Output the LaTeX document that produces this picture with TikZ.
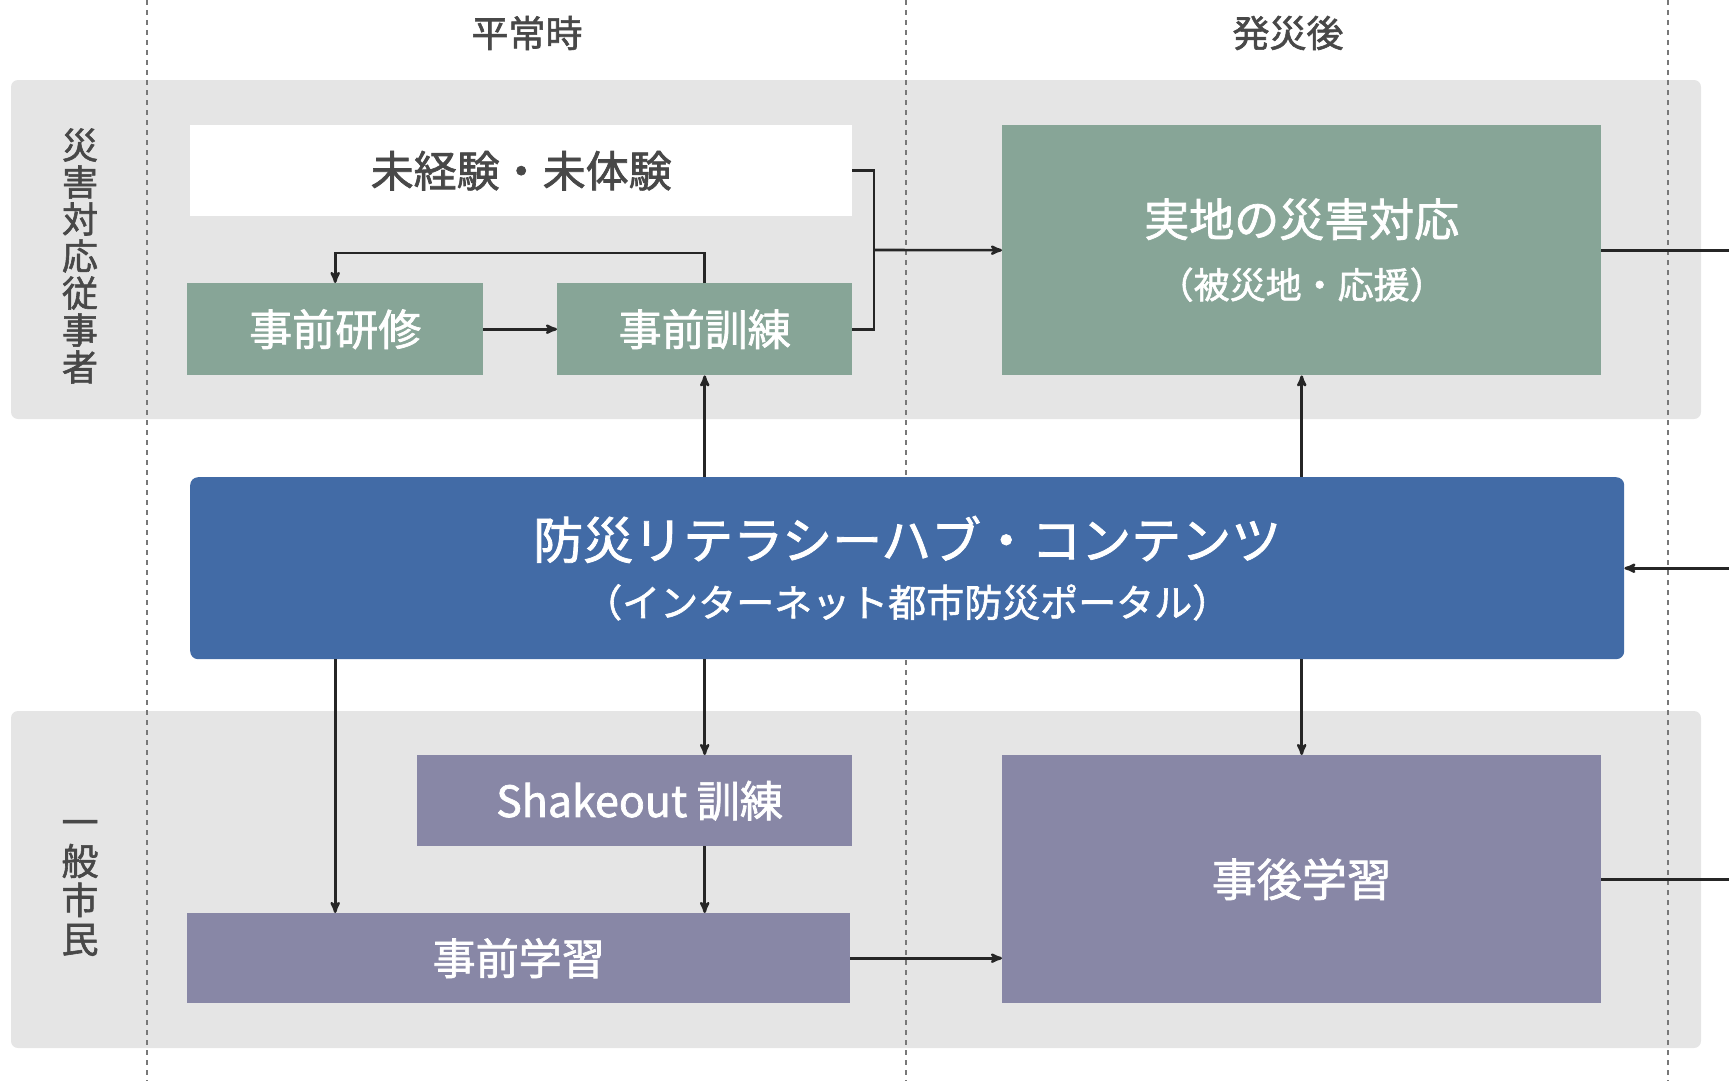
\documentclass[tikz,border=0pt]{standalone}
\usepackage{fontspec}
\setmainfont{Noto Sans CJK JP}
\newfontfamily\medium{Noto Sans CJK JP}[FakeBold=1.6]
\usepackage{tikz}
\usetikzlibrary{arrows}
\usetikzlibrary{calc}

\definecolor{bandgray}{RGB}{229,229,229}
\definecolor{sagegreen}{RGB}{135,165,151}
\definecolor{lavgray}{RGB}{136,135,166}
\definecolor{hubblue}{RGB}{66,107,166}
\definecolor{labelgray}{RGB}{72,72,72}
\definecolor{dashgray}{RGB}{120,120,120}

\tikzset{
  box/.style={anchor=north west,inner sep=0pt,align=center,text=white},
  greenbox/.style={box,fill=sagegreen},
  purplebox/.style={box,fill=lavgray},
  hubbox/.style={box,fill=hubblue,rounded corners=8pt},
  band/.style={fill=bandgray,rounded corners=7pt},
  phase/.style={text=labelgray,font=\fontsize{37}{44}\medium},
  actor/.style={text=labelgray,align=center},
  link/.style={draw,line width=2.6pt,black!85},
  arr/.style={link,->,>=stealth'}
}

\begin{document}
\begin{tikzpicture}[x=1pt,y=-1pt]

  \useasboundingbox (0,0) rectangle (1729,1081);

  % bands
  \fill [band] (11,80) rectangle (1701,419);
  \fill [band] (11,711) rectangle (1701,1048);

  % phase separators
  \foreach \xx in {147,906,1668}
    \draw [dashgray,line width=1.2pt,dash pattern=on 5pt off 5pt] (\xx,0) -- (\xx,1081);

  % headings
  \node [phase] (normal) at (527,33) {平常時};
  \node [phase] (after)  at (1288,33) {発災後};
  \node [actor,font=\fontsize{36}{37}\medium] (staff) at (80,256)
    {災\\害\\対\\応\\従\\事\\者};
  \node [actor,font=\fontsize{37}{39}\medium] (citizen) at (80,888)
    {一\\般\\市\\民};

  % staff row
  \node [box,fill=white,text=labelgray,minimum width=662pt,minimum height=91pt,
         font=\fontsize{43}{50}\medium] (mikeiken) at (190,125) {未経験・未体験};
  \node [greenbox,minimum width=296pt,minimum height=92pt,
         font=\fontsize{43}{50}\medium] (kenshu) at (187,283) {事前研修};
  \node [greenbox,minimum width=295pt,minimum height=92pt,
         font=\fontsize{43}{50}\medium] (kunren) at (557,283) {事前訓練};
  \node [greenbox,minimum width=599pt,minimum height=250pt,
         font=\fontsize{45}{68}\medium] (jitchi) at (1002,125)
    {実地の災害対応\\[-6pt]{\fontsize{36}{40}\selectfont（被災地・応援）}};

  % hub
  \node [hubbox,minimum width=1434pt,minimum height=182pt,
         font=\fontsize{50}{66}\medium] (hub) at (190,477)
    {防災リテラシーハブ・コンテンツ\\[-8pt]{\fontsize{38}{44}\selectfont（インターネット都市防災ポータル）}};

  % citizen row
  \node [purplebox,minimum width=435pt,minimum height=91pt,
         font=\fontsize{43}{50}\medium] (shakeout) at (417,755) {\ Shakeout 訓練};
  \node [purplebox,minimum width=663pt,minimum height=90pt,
         font=\fontsize{43}{50}\medium] (gakushu) at (187,913) {事前学習};
  \node [purplebox,minimum width=599pt,minimum height=248pt,
         font=\fontsize{45}{50}\medium] (jigo) at (1002,755) {事後学習};

  \coordinate (brk) at (874,250);
  \coordinate (rim) at (1729,0);
  \coordinate (loop) at (0,253);

  % connectors
  \draw [link] (mikeiken.east) -| (brk) |- (kunren.east);
  \draw [arr] (kunren.north) -- (kunren.north |- loop) -| (kenshu.north);

  \path [every edge/.style={arr}]
    (brk)                        edge (jitchi.west)
    (kenshu.east)                edge (kunren.west)
    (hub.north -| kunren.north)  edge (kunren.south)
    (hub.north -| jitchi.south)  edge (jitchi.south)
    (hub.south -| kenshu.south)  edge (gakushu.north -| kenshu.south)
    (hub.south -| kunren.south)  edge (shakeout.north -| kunren.south)
    (shakeout.south -| kunren.south) edge (gakushu.north -| kunren.south)
    (hub.south -| jigo.north)    edge (jigo.north)
    (gakushu.east)               edge (gakushu.east -| jigo.west)
    (hub.east -| rim)            edge (hub.east);

  \draw [link] (jitchi.east) -- (jitchi.east -| rim);
  \draw [link] (jigo.east) -- (jigo.east -| rim);

\end{tikzpicture}
\end{document}
